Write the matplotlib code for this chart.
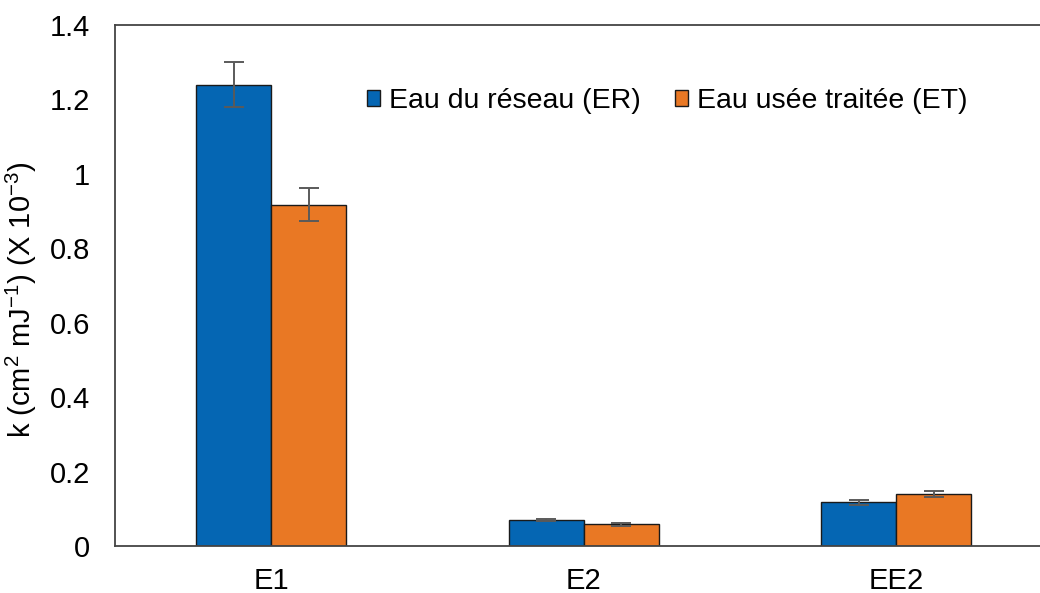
import matplotlib
matplotlib.use("Agg")
import matplotlib.pyplot as plt
import numpy as np

# Data
categories = ["E1", "E2", "EE2"]
er_values = [1.24, 0.069, 0.117]
er_errors = [0.06, 0.003, 0.006]
et_values = [0.917, 0.058, 0.140]
et_errors = [0.045, 0.003, 0.007]
series_labels = ["Eau du réseau (ER)", "Eau usée traitée (ET)"]
y_ticks = [0, 0.2, 0.4, 0.6, 0.8, 1.0, 1.2, 1.4]
y_tick_labels = ["0", "0.2", "0.4", "0.6", "0.8", "1", "1.2", "1.4"]

plt.rcParams["font.family"] = ["Liberation Sans", "DejaVu Sans"]
plt.rcParams["mathtext.fontset"] = "custom"
plt.rcParams["mathtext.rm"] = "Liberation Sans"
plt.rcParams["mathtext.it"] = "Liberation Sans:italic"
plt.rcParams["mathtext.bf"] = "Liberation Sans:bold"

W, H = 1040, 593
fig = plt.figure(figsize=(W / 100, H / 100), dpi=100)
ax = fig.add_axes([115 / W, (H - 546) / H, 937.5 / W, 521 / H])

x = np.arange(len(categories))
bw = 0.24
blue = "#0566B3"
orange = "#E97824"
err_kw = dict(ecolor="#5a5a5a", elinewidth=1.4, capsize=7, capthick=1.4)

ax.bar(x - bw / 2, er_values, bw, color=blue, edgecolor="#1a1a1a", linewidth=1.0,
       yerr=er_errors, error_kw=err_kw, label=series_labels[0], zorder=2)
ax.bar(x + bw / 2, et_values, bw, color=orange, edgecolor="#1a1a1a", linewidth=1.0,
       yerr=et_errors, error_kw=err_kw, label=series_labels[1], zorder=2)

ax.set_xlim(-0.5, len(categories) - 0.5)
ax.set_ylim(0, 1.4)
ax.set_yticks(y_ticks)
ax.set_yticklabels(y_tick_labels)
ax.set_xticks(x)
ax.set_xticklabels(categories)
ax.tick_params(axis="y", length=0, pad=18, labelsize=21)
ax.tick_params(axis="x", length=0, pad=15, labelsize=21)

for side in ["left", "bottom", "top", "right"]:
    ax.spines[side].set_color("#444444")
    ax.spines[side].set_linewidth(1.3)

ax.set_ylabel(r"k (cm$\mathregular{^{2}}$ mJ$\mathregular{^{-1}}$) (X 10$\mathregular{^{-3}}$)",
              fontsize=21)
ax.yaxis.set_label_coords(-0.081, 0.472)

ax.legend(loc="center left", bbox_to_anchor=((367 - 115) / 937.5, (546 - 101) / 521),
          ncol=2, frameon=False, fontsize=20.5, borderpad=0, borderaxespad=0,
          handlelength=0.47, handleheight=0.47, handletextpad=0.3, columnspacing=1.2)

fig.savefig("out.png", dpi=100)
